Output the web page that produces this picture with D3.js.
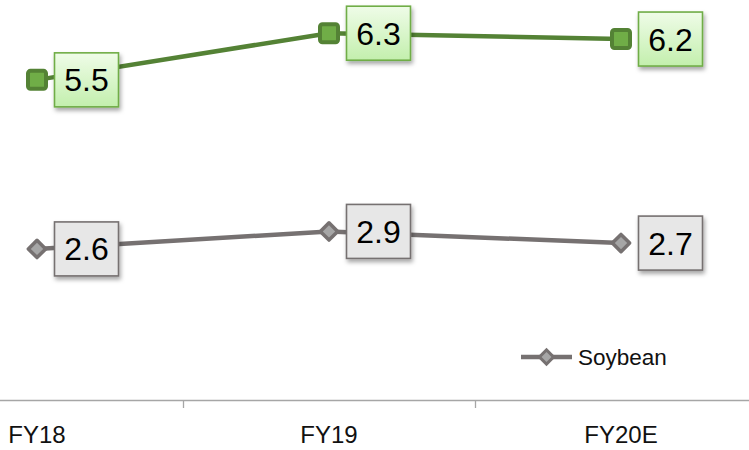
<!DOCTYPE html>
<html><head><meta charset="utf-8">
<script src="https://cdn.jsdelivr.net/npm/d3@7"></script>
<style>html,body{margin:0;padding:0;background:#fff;}svg{display:block;}</style>
</head><body>
<svg id="chart" width="749" height="450"></svg>
<script>
const categories = ["FY18", "FY19", "FY20E"];
const greenValues = [5.5, 6.3, 6.2];
const soybeanValues = [2.6, 2.9, 2.7];
const legendLabels = ["Soybean"];

const svg = d3.select("#chart");
const font = "'Liberation Sans', Arial, sans-serif";

const x = d3.scaleBand().domain(categories).range([-109, 767]);
const y = d3.scaleLinear().domain([0, 7]).range([400.5, 400.5 - 7 * 58.3]);
const cx = c => x(c) + x.bandwidth() / 2;

const defs = svg.append("defs");
const f = defs.append("filter").attr("id", "sh").attr("x", "-20%").attr("y", "-20%").attr("width", "150%").attr("height", "160%");
f.append("feDropShadow").attr("dx", 1.5).attr("dy", 3).attr("stdDeviation", 2).attr("flood-color", "#000").attr("flood-opacity", 0.35);
const gg = defs.append("linearGradient").attr("id", "gGreen").attr("x1", 0).attr("y1", 0).attr("x2", 0).attr("y2", 1);
gg.append("stop").attr("offset", "0%").attr("stop-color", "#effce8");
gg.append("stop").attr("offset", "100%").attr("stop-color", "#c3efad");

// axis
const axis = svg.append("g").attr("transform", "translate(0,400.5)")
  .call(d3.axisBottom(x).tickSize(0).tickPadding(0).tickFormat(""));
axis.select(".domain").attr("stroke", "#a6a6a6").attr("stroke-width", 1.3).attr("d", "M0,0H749");
axis.selectAll(".tick").remove();
// ticks at band boundaries
svg.append("g").selectAll("line").data(categories.slice(1)).join("line")
  .attr("x1", d => Math.round(x(d)) + 0.5).attr("x2", d => Math.round(x(d)) + 0.5)
  .attr("y1", 400).attr("y2", 408).attr("stroke", "#a6a6a6").attr("stroke-width", 1.3);
svg.append("g").selectAll("text").data(categories).join("text")
  .attr("x", d => cx(d)).attr("y", 443).attr("text-anchor", "middle")
  .attr("font-family", font).attr("font-size", 24).attr("fill", "#111").text(d => d);

function series(values, color, markerType, mFill, boxFill, boxStroke) {
  const pts = categories.map((c, i) => [cx(c), y(values[i])]);
  svg.append("path").attr("d", d3.line()(pts)).attr("fill", "none")
    .attr("stroke", color).attr("stroke-width", 4.5).attr("stroke-linejoin", "round");
  const g = svg.append("g");
  categories.forEach((c, i) => {
    const px = cx(c), py = y(values[i]);
    if (markerType === "square") {
      g.append("rect").attr("x", px - 9).attr("y", py - 9).attr("width", 18).attr("height", 18)
        .attr("rx", 2.5).attr("fill", mFill).attr("stroke", color).attr("stroke-width", 4);
    } else {
      g.append("path").attr("d", d3.symbol(d3.symbolSquare, 150)()).attr("transform", `translate(${px},${py}) rotate(45)`)
        .attr("fill", mFill).attr("stroke", color).attr("stroke-width", 3.5).attr("stroke-linejoin", "round");
    }
    const bx = px + 17.5, bw = 64, bh = 54;
    g.append("rect").attr("x", bx).attr("y", py - bh / 2).attr("width", bw).attr("height", bh)
      .attr("fill", boxFill).attr("stroke", boxStroke).attr("stroke-width", 1.6).attr("filter", "url(#sh)");
    g.append("text").attr("x", bx + bw / 2).attr("y", py + 11.5).attr("text-anchor", "middle")
      .attr("font-family", font).attr("font-size", 32).attr("fill", "#000").text(d3.format(".1f")(values[i]));
  });
}

series(greenValues, "#548235", "square", "#70ad47", "url(#gGreen)", "#70ad47");
series(soybeanValues, "#767171", "diamond", "#a6a6a6", "#e7e7e7", "#767171");

// legend
const lg = svg.append("g").attr("transform", "translate(521,357)");
lg.append("line").attr("x1", 0).attr("x2", 51).attr("stroke", "#767171").attr("stroke-width", 4.5);
lg.append("path").attr("d", d3.symbol(d3.symbolSquare, 100)()).attr("transform", "translate(25.5,0) rotate(45)")
  .attr("fill", "#a6a6a6").attr("stroke", "#767171").attr("stroke-width", 3);
lg.append("text").attr("x", 57).attr("y", 8).attr("font-family", font).attr("font-size", 22.5)
  .attr("fill", "#111").text(legendLabels[0]);
</script>
</body></html>
